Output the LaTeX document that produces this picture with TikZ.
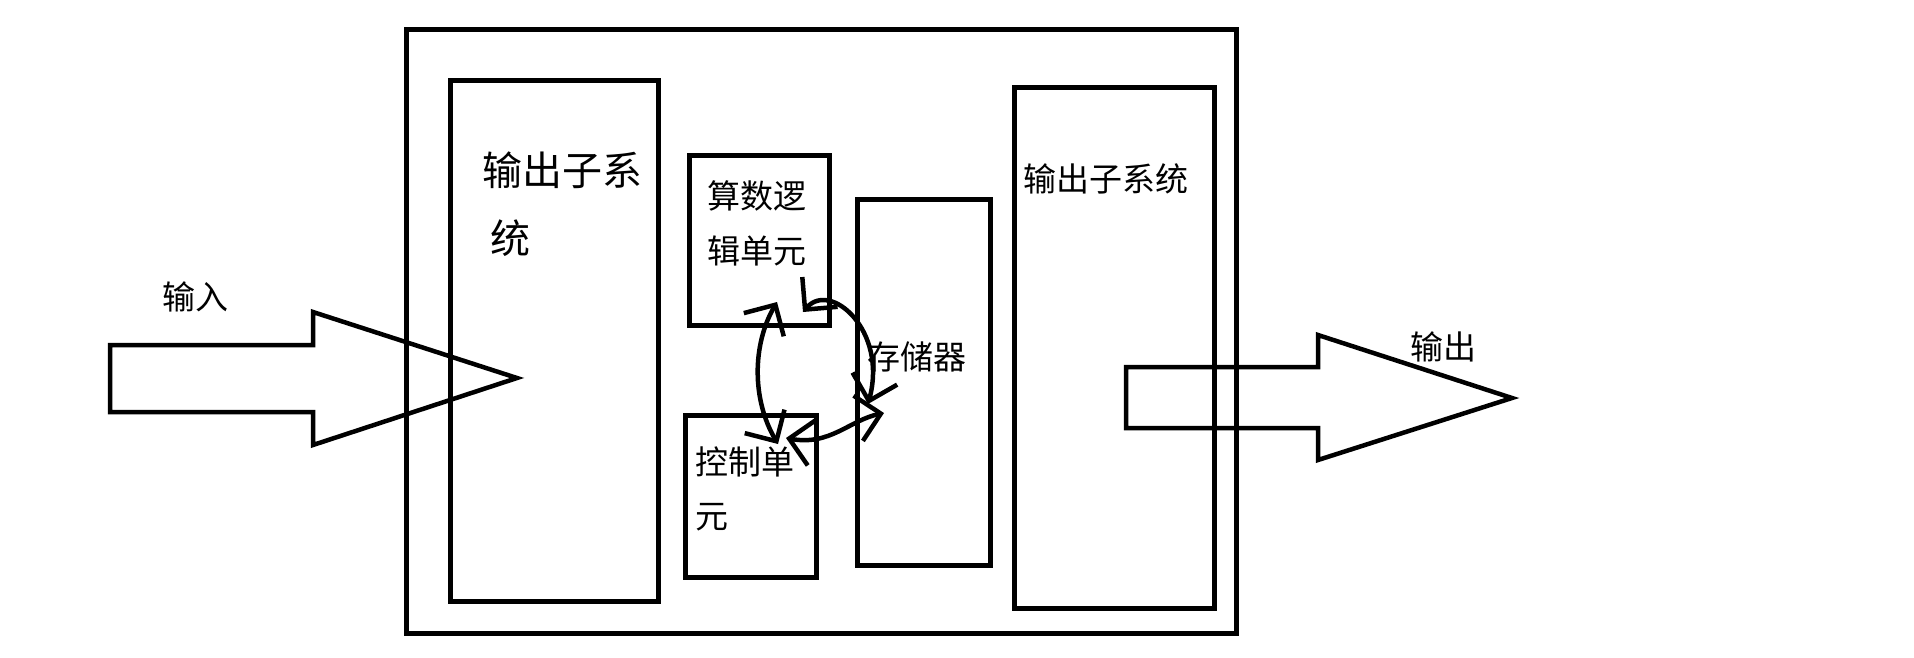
\documentclass[tikz,border=0pt]{standalone}
\usepackage{fontspec}
\newfontfamily\cjk{Noto Sans CJK SC}
\usetikzlibrary{arrows.meta}
\begin{document}
\begin{tikzpicture}[x=1pt,y=-1pt,
  box/.style={draw=black,line width=5pt,inner sep=0pt,outer sep=0pt,fill=none},
  lbl/.style={anchor=west,inner sep=0pt,font=\cjk\fontsize{33}{33}\selectfont},
  biglbl/.style={anchor=west,inner sep=0pt,font=\cjk\fontsize{40}{40}\selectfont},
  fat/.style={draw=black,line width=4.5pt,line join=miter},
  curly/.style={draw=black,line width=4.5pt,line cap=round,
    {Straight Barb[scale=2.2]}-{Straight Barb[scale=2.2]}}
]
\useasboundingbox (0,0) rectangle (1914,657);
\fill[white] (0,0) rectangle (1914,657);

% boxes
\node[box,minimum width=830pt,minimum height=604pt] (outer) at (821,331) {};
\node[box,minimum width=208pt,minimum height=521pt] (insub) at (554,340.5) {};
\node[box,minimum width=140pt,minimum height=170pt] (alu) at (759,240) {};
\node[box,minimum width=131pt,minimum height=162pt] (cu) at (750.5,496) {};
\node[box,minimum width=133pt,minimum height=366pt] (mem) at (923.5,382) {};
\node[box,minimum width=200pt,minimum height=521pt] (outsub) at (1114,347.5) {};

% texts
\node[biglbl] (t1a) at (482,170) {输出子系};
\node[biglbl] (t1b) at (490,238) {统};
\node[lbl] (t2) at (1023,179) {输出子系统};
\node[lbl] (t3a) at (707,196) {算数逻};
\node[lbl] (t3b) at (707,251) {辑单元};
\node[lbl] (t4a) at (695,462) {控制单};
\node[lbl] (t4b) at (695,517) {元};
\node[lbl] (t5) at (867,357) {存储器};
\node[lbl] (tin) at (162,297) {输入};
\node[lbl] (tout) at (1410,347) {输出};

% fat arrows
\draw[fat] (110,345) -- (313,345) -- (313,312) -- (517,378) -- (313,445) -- (313,412) -- (110,412) -- cycle;
\draw[fat] (1126,367) -- (1318,367) -- (1318,335) -- (1512,398) -- (1318,460) -- (1318,428) -- (1126,428) -- cycle;

% hand-drawn arrows
\coordinate (aluB) at (777,302);
\coordinate (cuT) at (778,444);
\coordinate (aluR) at (803,312);
\coordinate (memL) at (868,404);
\coordinate (cuR) at (786,438);
\coordinate (memL2) at (884,413);
\draw[curly] (aluB) .. controls (752,345) and (752,400) .. (cuT);
\draw[curly] (aluR) .. controls (830,280) and (888,330) .. (memL);
\draw[curly] (cuR) .. controls (830,446) and (850,420) .. (memL2);
\end{tikzpicture}
\end{document}
